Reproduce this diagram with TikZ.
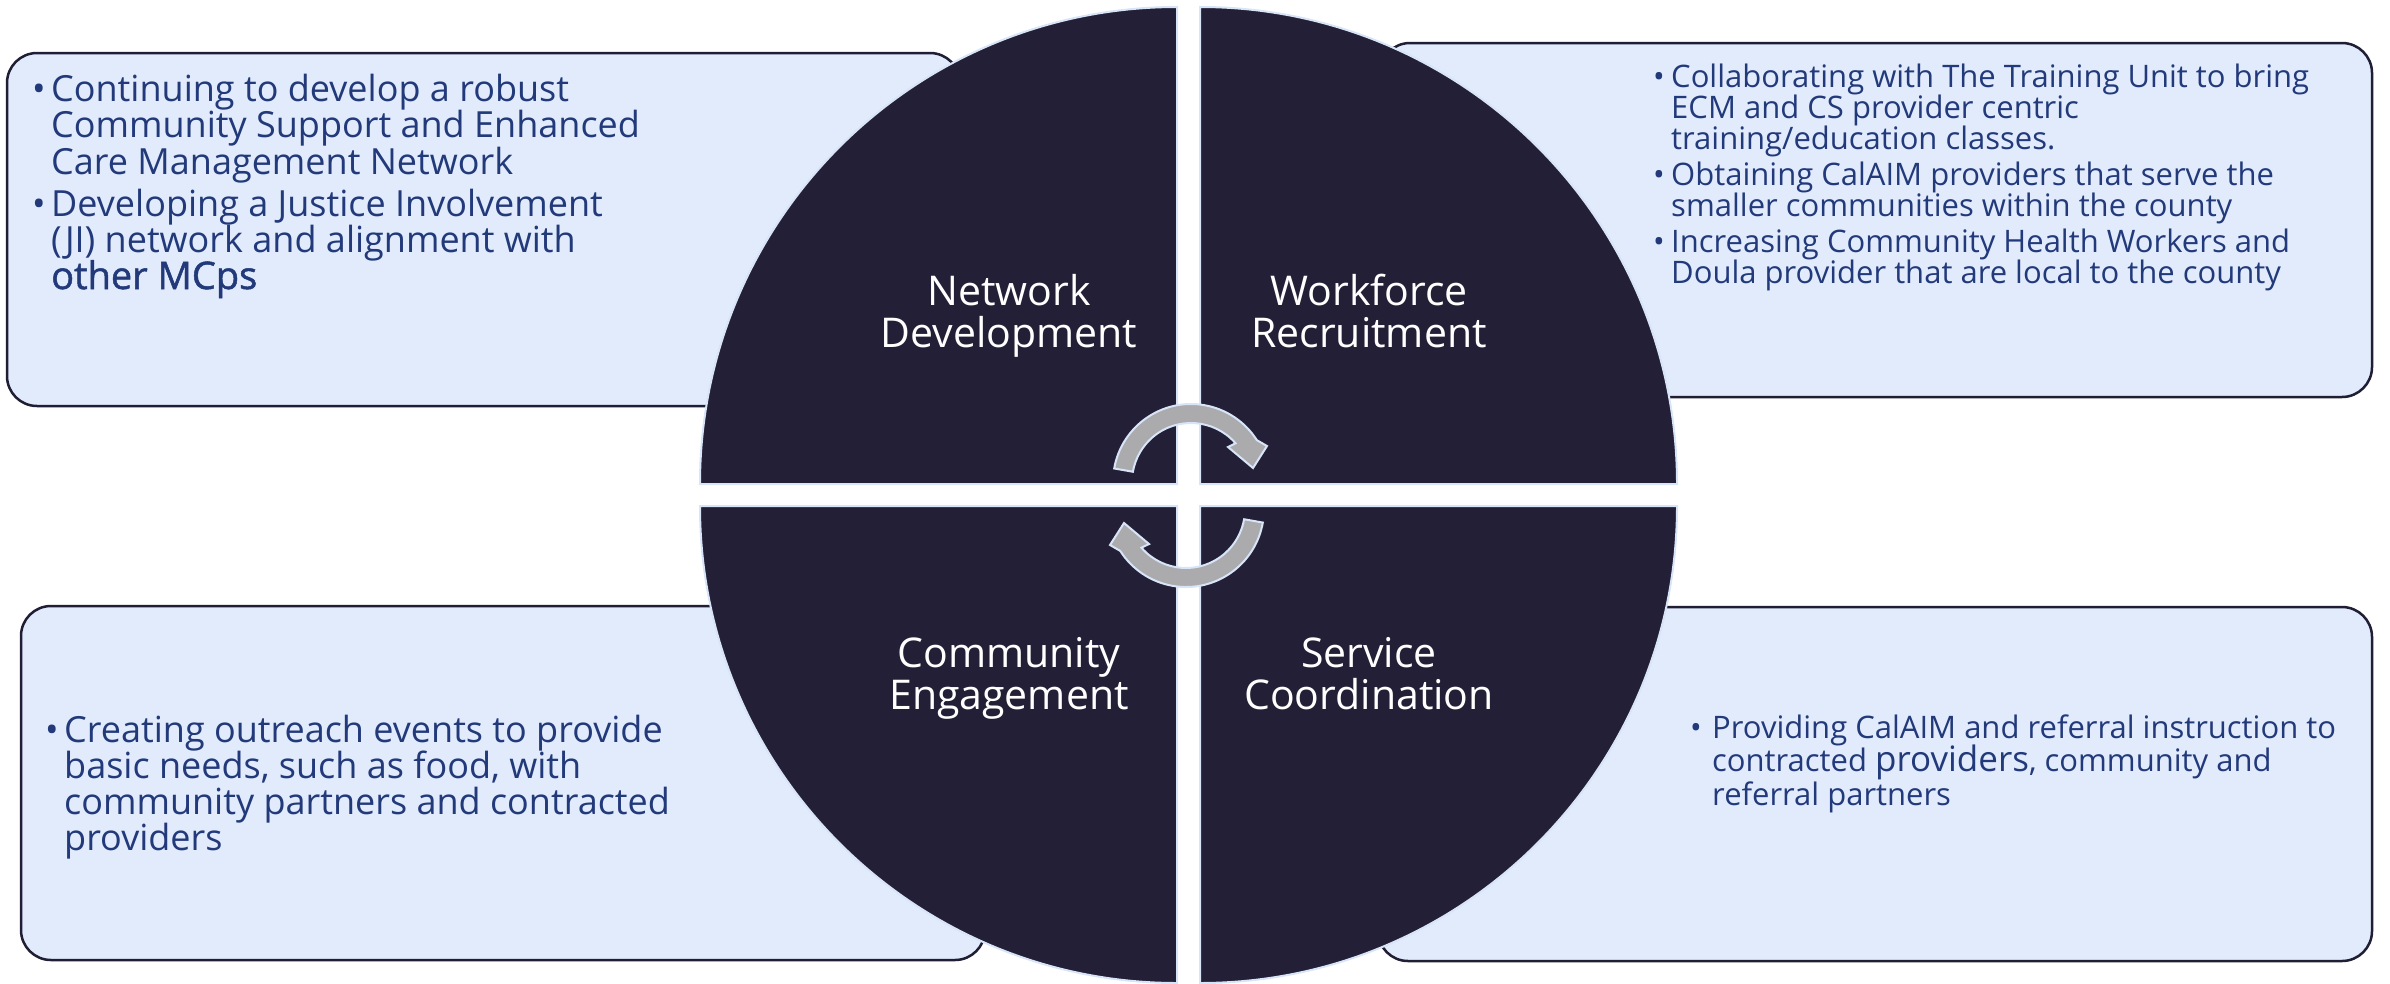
\documentclass[tikz,border=0pt]{standalone}
\usepackage{fontspec}
\setmainfont{Open Sans}
\newfontfamily\semib[FakeBold=1.3]{Open Sans}

\definecolor{notte}{HTML}{231F36}
\definecolor{azzurro}{HTML}{E1EBFC}
\definecolor{bordo}{HTML}{1F1E34}
\definecolor{chiaro}{HTML}{D8E4F7}
\definecolor{grigio}{HTML}{ABABAD}
\definecolor{blu}{HTML}{22397A}

% elenco puntato: dimensione, interlinea, spazio tra le voci, contenuto
\newcommand{\elenco}[4]{\fontsize{#1}{#2}\selectfont\lineskiplimit=-100pt
    \vtop{\hsize=1000pt\parindent=0pt\parskip=#3\relax #4}}
\newcommand{\voce}[1]{\par\hangindent=#1\hangafter=1\makebox[#1][l]{\textbullet}}

\begin{document}
\begin{tikzpicture}[x=1pt, y=1pt,
    box/.style={draw=bordo, fill=azzurro, line width=2.5pt, rounded corners=30pt},
    quad/.style={fill=notte, draw=chiaro, line width=2pt},
    freccia/.style={fill=grigio, draw=chiaro, line width=2pt},
    etichetta/.style={text=white, align=center, inner sep=0pt, font=\fontsize{41}{42}\selectfont},
    testo/.style={text=blu, anchor=base west, inner sep=0pt}]
    \useasboundingbox (0,0) rectangle (2390,-983);

    % Riquadri con il testo
    \draw[box] (7,-53) rectangle (960,-406);
    \draw[box] (1380,-43) rectangle (2372,-397);
    \draw[box] (21,-606) rectangle (985,-960);
    \draw[box] (1378,-607) rectangle (2372,-961);

    % Quattro quarti del cerchio
    \draw[quad] (1177,-484) -- ++(90:477) arc[start angle=90, end angle=180, radius=477] -- cycle;
    \draw[quad] (1200,-484) -- ++(0:477) arc[start angle=0, end angle=90, radius=477] -- cycle;
    \draw[quad] (1177,-506) -- ++(180:477) arc[start angle=180, end angle=270, radius=477] -- cycle;
    \draw[quad] (1200,-506) -- ++(270:477) arc[start angle=270, end angle=360, radius=477] -- cycle;

    % Frecce circolari
    \coordinate (cu) at (1191,-482);
    \coordinate (cl) at (1186,-509);
    \draw[freccia] ([shift={(170:78)}]cu) arc[start angle=170, end angle=32.5, radius=78]
        -- (1267,-446) -- (1253,-468) -- (1228,-447)
        -- ([shift={(41:59)}]cu) arc[start angle=41, end angle=170, radius=59] -- cycle;
    \draw[freccia] ([shift={(350:78)}]cl) arc[start angle=350, end angle=212.5, radius=78]
        -- (1110,-545) -- (1124,-523) -- (1149,-544)
        -- ([shift={(221:59)}]cl) arc[start angle=221, end angle=350, radius=59] -- cycle;

    % Etichette dei quarti
    \node[etichetta] (netdev) at (1009,-316) {Network\\Development};
    \node[etichetta] (workrec) at (1369,-316) {Workforce\\Recruitment\vphantom{p}};
    \node[etichetta] (comeng) at (1009,-678) {Community\\Engagement};
    \node[etichetta] (sercoo) at (1369,-678) {Service\\Coordination\vphantom{g}};

    % Testi nei riquadri
    \node[testo] (txtnet) at (32,-101) {\elenco{36}{36.5}{5.5pt}{%
        \voce{19pt}Continuing to develop a robust\\
        Community Support and Enhanced\\
        Care Management Network
        \voce{19pt}Developing a Justice Involvement\\
        (JI) network and alignment with\\
        {\semib\fontsize{38}{36.5}\selectfont other MCps}}};
    \node[testo] (txtwork) at (1653,-87) {\elenco{31}{31}{5pt}{%
        \voce{18pt}Collaborating with The Training Unit to bring\\
        ECM and CS provider centric\\
        training/education classes.
        \voce{18pt}Obtaining CalAIM providers that serve the\\
        smaller communities within the county
        \voce{18pt}Increasing Community Health Workers and\\
        Doula provider that are local to the county}};
    \node[testo] (txtcom) at (45,-742) {\elenco{36}{36}{0pt}{%
        \voce{19pt}Creating outreach events to provide\\
        basic needs, such as food, with\\
        community partners and contracted\\
        providers}};
    \node[testo] (txtser) at (1690,-738) {\elenco{31}{33.5}{0pt}{%
        \voce{22pt}Providing CalAIM and referral instruction to\\
        contracted {\fontsize{35}{33.5}\selectfont providers}, community and\\
        referral partners}};
\end{tikzpicture}
\end{document}
